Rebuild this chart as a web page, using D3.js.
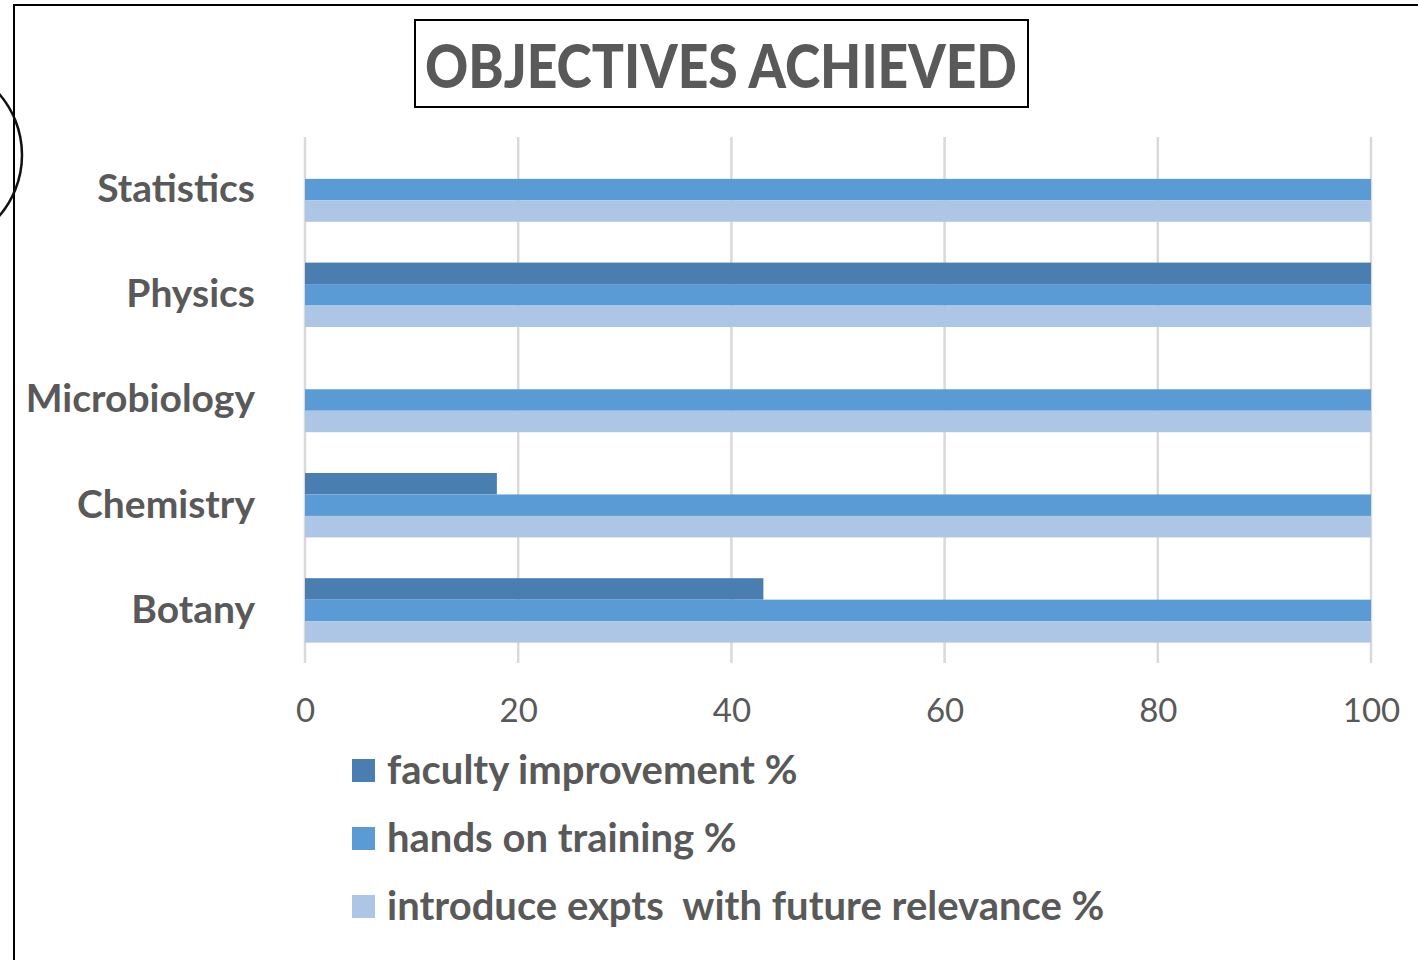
<!DOCTYPE html>
<html>
<head>
<meta charset="utf-8">
<script src="https://cdn.jsdelivr.net/npm/d3@7"></script>
<style>
  html, body { margin: 0; padding: 0; background: #fff; }
  #svg-container { width: 1418px; height: 960px; }
  text { font-family: Lato, "Open Sans", sans-serif; fill: #595959; }
</style>
</head>
<body>
<div id="svg-container"></div>
<script>
var subjects = ["Statistics", "Physics", "Microbiology", "Chemistry", "Botany"];
var seriesNames = ["faculty improvement %", "hands on training %", "introduce expts  with future relevance %"];
var facultyImprovement = [0, 100, 0, 18, 43];
var handsOnTraining = [100, 100, 100, 100, 100];
var introduceExpts = [100, 100, 100, 100, 100];
var xTicks = [0, 20, 40, 60, 80, 100];
var colors = ["#4a7eb0", "#5b9bd5", "#adc6e5"];

var width = 1418, height = 960;
var seriesValues = [facultyImprovement, handsOnTraining, introduceExpts];

var svg = d3.select("#svg-container").append("svg")
  .attr("width", width).attr("height", height);

// page frame + stray circle at left edge
svg.append("path")
  .attr("d", "M14,960 V5 H1418")
  .attr("fill", "none").attr("stroke", "#000").attr("stroke-width", 2);
svg.append("circle")
  .attr("cx", -71).attr("cy", 155).attr("r", 93)
  .attr("fill", "none").attr("stroke", "#111").attr("stroke-width", 2.5);

// title
svg.append("rect")
  .attr("x", 415).attr("y", 20).attr("width", 613).attr("height", 87)
  .attr("fill", "#fff").attr("stroke", "#000").attr("stroke-width", 2);
svg.append("text")
  .attr("x", 721).attr("y", 88)
  .attr("text-anchor", "middle")
  .attr("font-size", 60).attr("font-weight", "900")
  .attr("textLength", 592).attr("lengthAdjust", "spacingAndGlyphs")
  .text("OBJECTIVES ACHIEVED");

var scaleX = d3.scaleLinear().domain([0, 100]).range([305, 1371]);
var scaleY = d3.scaleBand().domain(subjects).range([137, 663]).paddingInner(0).paddingOuter(0);
var inner = d3.scaleBand().domain(d3.range(seriesNames.length))
  .range([0, scaleY.bandwidth()]).paddingInner(0).paddingOuter(0.95);

// gridlines
svg.append("g")
  .selectAll("line").data(xTicks).enter().append("line")
  .attr("x1", function(d) { return scaleX(d); })
  .attr("x2", function(d) { return scaleX(d); })
  .attr("y1", 137).attr("y2", 663)
  .attr("stroke", "#d9d9d9").attr("stroke-width", 2.5);

// x axis labels
var xAxis = d3.axisBottom(scaleX).tickValues(xTicks).tickSize(0).tickPadding(0);
var gx = svg.append("g").attr("transform", "translate(0,699)").call(xAxis);
gx.select(".domain").remove();
gx.selectAll("text")
  .attr("font-size", 33).attr("dy", "0.71em")
  .style("font-family", "Lato, 'Open Sans', sans-serif").attr("fill", "#595959");

// bars
subjects.forEach(function(s, i) {
  seriesValues.forEach(function(vals, k) {
    if (vals[i] <= 0) return;
    svg.append("rect")
      .attr("x", scaleX(0))
      .attr("y", scaleY(s) + inner(k))
      .attr("width", scaleX(vals[i]) - scaleX(0))
      .attr("height", inner.bandwidth())
      .attr("fill", colors[k]);
  });
});

// category labels
var yAxis = d3.axisLeft(scaleY).tickSize(0).tickPadding(50);
var gy = svg.append("g").attr("transform", "translate(305,0)").call(yAxis);
gy.select(".domain").remove();
gy.selectAll("text")
  .attr("font-size", 39).attr("font-weight", "bold")
  .style("font-family", "Lato, 'Open Sans', sans-serif").attr("fill", "#595959");

// legend
var legend = svg.append("g").selectAll("g").data(seriesNames).enter().append("g")
  .attr("transform", function(d, i) { return "translate(352," + (759 + i * 68) + ")"; });
legend.append("rect")
  .attr("width", 23).attr("height", 23)
  .attr("fill", function(d, i) { return colors[i]; });
legend.append("text")
  .attr("x", 35).attr("y", 25)
  .attr("font-size", 40).attr("font-weight", "bold")
  .style("white-space", "pre")
  .text(function(d) { return d; });
</script>
</body>
</html>
